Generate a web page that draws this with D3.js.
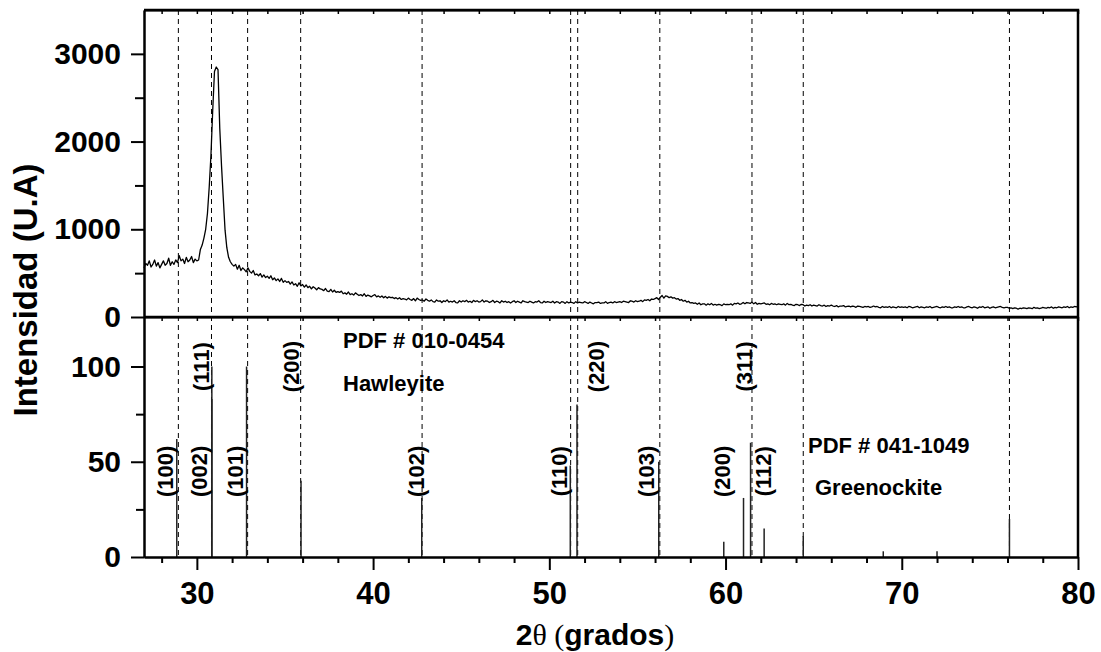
<!DOCTYPE html>
<html>
<head>
<meta charset="utf-8">
<script src="https://cdn.jsdelivr.net/npm/d3@7"></script>
<style>
  body { margin: 0; background: #fff; }
  text { font-family: Arial, "Liberation Sans", sans-serif; font-weight: bold; fill: #000; }
</style>
</head>
<body>
<div id="chart"></div>
<script>
// measured pattern, 2theta grid 27.0 -> 80.0 every 0.1 degree
var angleStart = 27, angleStep = 0.1;
var intensity = [
  560, 610, 590, 640, 570, 600, 650, 580, 620, 560,   // 27.0
  600, 640, 590, 610, 670, 590, 630, 600, 650, 620,   // 28.0
  700, 640, 660, 610, 680, 630, 650, 690, 620, 660,   // 29.0
  640,                                                // 30.0
  650, 770, 820, 900, 1000, 1180, 1480, 1850, 2360, 2800,
  2850, 2820, 2150, 1720, 1350, 990, 790, 680, 630, 600,
  580, 600, 545, 590, 530, 560, 540, 515, 560, 520,
  500, 530, 480, 490, 470, 495, 455, 480, 450, 465,
  440, 470, 425, 445, 415, 435, 405, 440, 395, 415,
  395, 405, 375, 400, 365, 380, 350, 390, 355, 370,
  340, 365, 335, 350, 320, 345, 330, 310, 335, 320,
  315, 300, 325, 295, 290, 315, 285, 305, 280, 290,
  280, 295, 265, 275, 260, 285, 255, 265, 250, 275,
  260, 245, 255, 240, 265, 235, 250, 240, 230, 245,
  255, 230, 240, 225, 240, 220, 235, 215, 230, 220,   // 40.1
  225, 210, 220, 205, 220, 200, 210, 205, 195, 215,
  200, 190, 210, 185, 215, 200, 190, 195, 180, 205,
  190, 180, 195, 175, 170, 195, 180, 185, 165, 185,
  175, 195, 170, 180, 170, 185, 165, 160, 185, 170,
  185, 175, 190, 170, 180, 165, 190, 175, 185, 170,
  175, 195, 170, 185, 180, 165, 175, 190, 165, 180,
  175, 160, 185, 170, 180, 165, 175, 160, 175, 185,
  165, 180, 170, 160, 185, 175, 170, 165, 180, 170,
  160, 175, 170, 185, 165, 160, 180, 165, 175, 170,
  165, 180, 160, 175, 170, 155, 175, 170, 155, 175,   // 50.1
  160, 170, 165, 155, 175, 160, 170, 165, 160, 175,
  165, 155, 170, 160, 150, 165, 165, 170, 155, 160,
  160, 175, 155, 165, 170, 160, 175, 165, 170, 175,
  165, 180, 175, 170, 165, 185, 180, 170, 185, 175,
  180, 190, 175, 195, 190, 200, 185, 205, 200, 210,
  220, 200, 225, 245, 215, 240, 235, 220, 230, 215,
  220, 205, 210, 190, 200, 180, 190, 170, 180, 160,
  165, 155, 160, 145, 160, 140, 150, 150, 135, 150,
  140, 155, 135, 145, 135, 145, 140, 130, 150, 140,
  145, 140, 150, 135, 155, 150, 160, 145, 150, 165,   // 60.1
  150, 165, 160, 155, 170, 150, 165, 145, 155, 150,
  155, 160, 145, 150, 140, 155, 145, 150, 140, 150,
  145, 140, 150, 135, 155, 140, 145, 135, 130, 145,
  140, 130, 145, 140, 125, 135, 130, 140, 125, 135,
  130, 125, 140, 130, 125, 135, 120, 130, 125, 135,
  125, 120, 130, 115, 125, 125, 130, 115, 120, 125,
  115, 125, 120, 110, 125, 120, 115, 110, 120, 115,
  120, 110, 115, 125, 115, 120, 110, 105, 120, 110,
  115, 110, 120, 105, 115, 110, 105, 120, 110, 115,
  110, 115, 105, 120, 115, 105, 110, 115, 120, 105,   // 70.1
  115, 110, 105, 115, 110, 120, 105, 110, 115, 120,
  110, 105, 115, 110, 120, 110, 115, 105, 105, 115,
  110, 120, 110, 115, 105, 105, 115, 120, 110, 105,
  115, 110, 100, 115, 110, 120, 105, 110, 115, 100,
  110, 115, 105, 110, 115, 120, 110, 105, 110, 110,
  100, 105, 95, 105, 100, 90, 100, 95, 105, 100,
  95, 105, 100, 95, 110, 100, 105, 95, 100, 110,
  105, 100, 110, 105, 115, 100, 110, 105, 115, 110,
  105, 115, 110, 120, 105, 115, 110, 120, 115, 120
];

// dashed reference positions
var refAngles = [28.95, 30.83, 32.88, 35.89, 42.78, 51.21, 51.61, 56.27, 61.5, 64.41, 76.11];

// PDF 041-1049 Greenockite
var greenAngles = [28.86, 30.85, 32.82, 42.76, 51.19, 56.21, 59.9, 61.02, 62.19, 68.95, 72.0];
var greenIntensity = [62, 83, 100, 31, 48, 50, 8, 31, 15, 3, 3];

// PDF 010-0454 Hawleyite
var hawAngles = [30.85, 35.91, 51.57, 61.42, 64.41, 76.11];
var hawIntensity = [100, 40, 80, 60, 11, 20];

// Miller index labels
var peakLabels = ["(100)", "(002)", "(101)", "(111)", "(200)", "(102)", "(110)", "(220)", "(103)", "(200)", "(311)", "(112)"];
var labelAngles = [28.2, 30.13, 32.18, 30.23, 35.34, 42.44, 50.59, 52.67, 55.51, 59.82, 61.09, 62.17];
var labelLevels = [45, 45, 45, 100, 100, 45, 45, 100, 45, 45, 100, 45];

var xTicks = [30, 40, 50, 60, 70, 80];
var xMinor = [28, 32, 34, 36, 38, 42, 44, 46, 48, 52, 54, 56, 58, 62, 64, 66, 68, 72, 74, 76, 78];
var topTicks = [0, 1000, 2000, 3000];
var topMinor = [500, 1500, 2500];
var botTicks = [0, 50, 100];
var botMinor = [25, 75];

var W = 1101, H = 652;
var pLeft = 144, pRight = 1078, pTop = 10, pMid = 317, pBottom = 557;

var svg = d3.select("#chart")
  .append("svg")
    .attr("width", W)
    .attr("height", H);

var x = d3.scaleLinear().domain([27, 80]).range([pLeft, pRight]);
var yTop = d3.scaleLinear().domain([0, 3500]).range([pMid, pTop]);
var yBot = d3.scaleLinear().domain([0, 126]).range([pBottom, pMid]);

function styleAxis(g, size) {
  g.attr("font-family", "Arial, 'Liberation Sans', sans-serif")
   .attr("font-weight", "bold")
   .attr("font-size", size);
  g.selectAll("line").attr("stroke", "#000").attr("stroke-width", 2);
  g.select(".domain").attr("stroke", "#000").attr("stroke-width", 2);
}

// dashed reference lines
svg.append("g").selectAll("line")
  .data(refAngles)
  .enter().append("line")
    .attr("x1", function(d) { return x(d); })
    .attr("x2", function(d) { return x(d); })
    .attr("y1", pTop)
    .attr("y2", pBottom)
    .attr("stroke", "#000")
    .attr("stroke-width", 1)
    .attr("stroke-dasharray", "5,4");

// sticks
var sticks = greenAngles.map(function(a, i) { return {a: a, v: greenIntensity[i]}; })
  .concat(hawAngles.map(function(a, i) { return {a: a, v: hawIntensity[i]}; }));
svg.append("g").selectAll("line")
  .data(sticks)
  .enter().append("line")
    .attr("x1", function(d) { return x(d.a); })
    .attr("x2", function(d) { return x(d.a); })
    .attr("y1", yBot(0))
    .attr("y2", function(d) { return yBot(d.v); })
    .attr("stroke", "#222")
    .attr("stroke-width", 1.5);

// pattern line
var pattern = intensity.map(function(v, i) { return {a: angleStart + i * angleStep, v: v}; });
svg.append("path")
  .datum(pattern)
  .attr("fill", "none")
  .attr("stroke", "#000")
  .attr("stroke-width", 1.3)
  .attr("stroke-linejoin", "round")
  .attr("d", d3.line()
    .x(function(d) { return x(d.a); })
    .y(function(d) { return yTop(d.v); }));

// x axis
var gx = svg.append("g")
  .attr("transform", "translate(0," + pBottom + ")")
  .call(d3.axisBottom(x).tickValues(xTicks).tickSize(13).tickSizeOuter(0).tickPadding(12).tickFormat(d3.format("d")));
styleAxis(gx, 31);
var gxm = svg.append("g")
  .attr("transform", "translate(0," + pBottom + ")")
  .call(d3.axisBottom(x).tickValues(xMinor).tickSize(6).tickSizeOuter(0).tickFormat(""));
styleAxis(gxm, 10);

// inner ticks on top edges
[pTop, pMid].forEach(function(yy) {
  var g = svg.append("g")
    .attr("transform", "translate(0," + yy + ")")
    .call(d3.axisTop(x).tickValues(xTicks.concat(xMinor)).tickSize(-4).tickSizeOuter(0).tickFormat(""));
  styleAxis(g, 10);
  g.selectAll("line").attr("stroke-width", 1.5);
});

// y axes
var gyt = svg.append("g")
  .attr("transform", "translate(" + pLeft + ",0)")
  .call(d3.axisLeft(yTop).tickValues(topTicks).tickSize(13).tickSizeOuter(0).tickPadding(10).tickFormat(d3.format("d")));
styleAxis(gyt, 30);
var gytm = svg.append("g")
  .attr("transform", "translate(" + pLeft + ",0)")
  .call(d3.axisLeft(yTop).tickValues(topMinor).tickSize(9).tickSizeOuter(0).tickFormat(""));
styleAxis(gytm, 10);

var gyb = svg.append("g")
  .attr("transform", "translate(" + pLeft + ",0)")
  .call(d3.axisLeft(yBot).tickValues(botTicks).tickSize(13).tickSizeOuter(0).tickPadding(10).tickFormat(d3.format("d")));
styleAxis(gyb, 30);
var gybm = svg.append("g")
  .attr("transform", "translate(" + pLeft + ",0)")
  .call(d3.axisLeft(yBot).tickValues(botMinor).tickSize(8).tickSizeOuter(0).tickFormat(""));
styleAxis(gybm, 10);

// frame
svg.append("path")
  .attr("d", "M" + pLeft + "," + pTop + "H" + pRight + "V" + pBottom + "M" + pLeft + "," + pMid + "H" + pRight)
  .attr("fill", "none")
  .attr("stroke", "#000")
  .attr("stroke-width", 2.5);

// miller labels
svg.append("g").selectAll("text")
  .data(peakLabels)
  .enter().append("text")
    .attr("transform", function(d, i) {
      return "translate(" + x(labelAngles[i]) + "," + yBot(labelLevels[i]) + ") rotate(-90)";
    })
    .attr("text-anchor", "middle")
    .attr("dy", "0.35em")
    .style("font-size", "22px")
    .text(function(d) { return d; });

// card annotations
svg.append("text").attr("x", 343).attr("y", 348).style("font-size", "22px").text("PDF # 010-0454");
svg.append("text").attr("x", 343).attr("y", 391).style("font-size", "22px").text("Hawleyite");
svg.append("text").attr("x", 808).attr("y", 453).style("font-size", "22px").text("PDF # 041-1049");
svg.append("text").attr("x", 815).attr("y", 495).style("font-size", "22px").text("Greenockite");

// axis titles
svg.append("text")
  .attr("transform", "translate(37,290) rotate(-90)")
  .attr("text-anchor", "middle")
  .style("font-size", "33px")
  .text("Intensidad (U.A)");

var xt = svg.append("text")
  .attr("x", 595)
  .attr("y", 645)
  .attr("text-anchor", "middle")
  .style("font-size", "30px");
xt.append("tspan").text("2");
xt.append("tspan").style("font-family", "'Liberation Serif', 'Times New Roman', serif").style("font-weight", "normal").text("θ (");
xt.append("tspan").text("grados");
xt.append("tspan").style("font-family", "'Liberation Serif', 'Times New Roman', serif").style("font-weight", "normal").text(")");
</script>
</body>
</html>
